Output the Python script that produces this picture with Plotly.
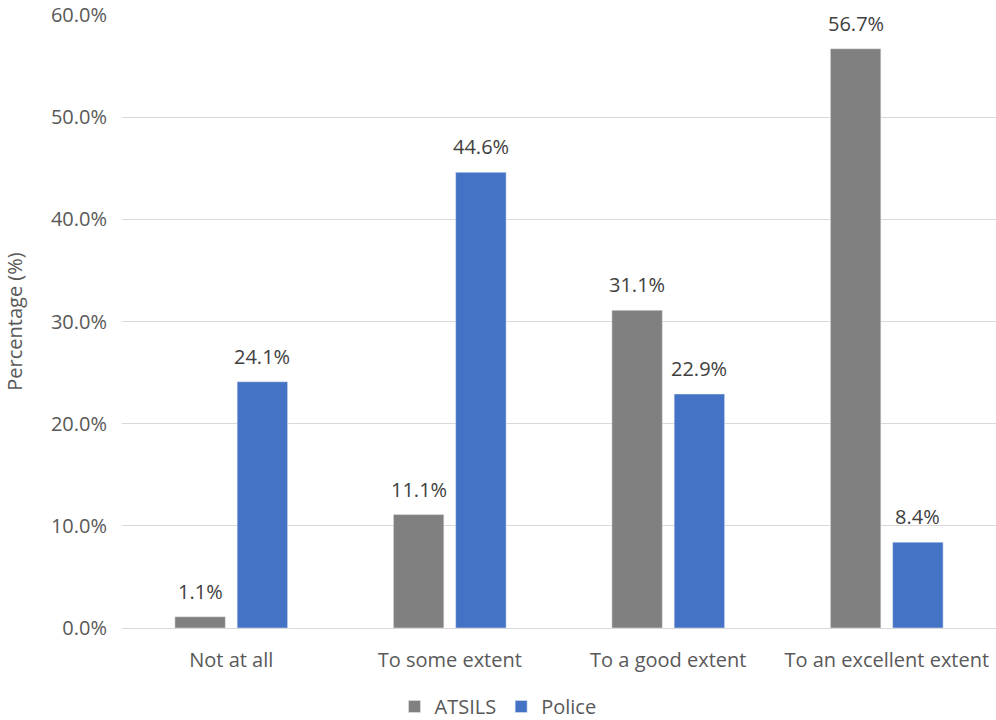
import plotly.graph_objects as go

categories = ["Not at all", "To some extent", "To a good extent", "To an excellent extent"]
atsils = [1.1, 11.1, 31.1, 56.7]
police = [24.1, 44.6, 22.9, 8.4]
y_ticks = [0, 10, 20, 30, 40, 50, 60]
y_tick_labels = ["0.0%", "10.0%", "20.0%", "30.0%", "40.0%", "50.0%", "60.0%"]

FONT = "Open Sans"
SIZE = 20
fig = go.Figure()
series = [("ATSILS", atsils, "#808080", -31), ("Police", police, "#4472C4", 31)]
for name, vals, color, shift in series:
    fig.add_trace(go.Bar(x=categories, y=vals, name=name, marker_color=color))
    for c, v in zip(categories, vals):
        fig.add_annotation(x=c, y=v, text=f"{v:.1f}%", showarrow=False,
                           xshift=shift, yshift=10, yanchor="bottom",
                           font=dict(family=FONT, size=SIZE, color="#404040"))

fig.update_layout(
    width=996, height=720,
    paper_bgcolor="white", plot_bgcolor="white",
    margin=dict(l=122, r=0, t=15, b=92, autoexpand=False),
    barmode="group", bargap=0.43, bargroupgap=0.19,
    font=dict(family=FONT, size=SIZE, color="#595959"),
    legend=dict(orientation="h", x=0.5, xref="container", xanchor="center",
                y=-0.128, yref="paper", yanchor="middle",
                font=dict(family=FONT, size=SIZE, color="#595959"),
                itemwidth=30, traceorder="normal"),
    xaxis=dict(showline=True, linecolor="#d9d9d9", linewidth=1, automargin=False,
               ticks="", tickfont=dict(size=SIZE, color="#595959"),
               ticklabelstandoff=14),
    yaxis=dict(range=[0, 60], tickvals=y_ticks, ticktext=y_tick_labels, automargin=False,
               showgrid=True, gridcolor="#d9d9d9", zeroline=False,
               ticks="", tickfont=dict(size=SIZE, color="#595959"),
               ticklabelstandoff=14,
               title=dict(text="Percentage (%)", font=dict(size=SIZE, color="#595959"), standoff=22)),
)
fig.write_html("out.html", config={"displayModeBar": False},
               post_script="document.body.style.margin='0';document.body.style.overflow='hidden';")
